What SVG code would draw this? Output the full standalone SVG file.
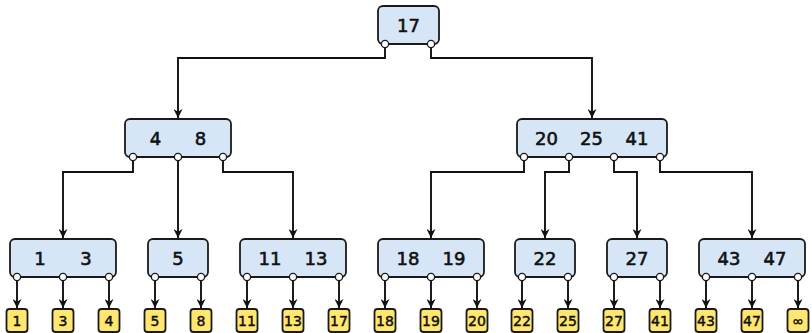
<svg xmlns="http://www.w3.org/2000/svg" width="812" height="333" viewBox="0 0 812 333">
<style>
.n{fill:#d6e6f6;stroke:#1a1a1a;stroke-width:1.8}
.l{fill:#ffe66e;stroke:#1a1a1a;stroke-width:1.8}
.c{fill:#fff;stroke:#1a1a1a;stroke-width:1.3}
.t{font-family:"DejaVu Sans",sans-serif;font-size:18px;fill:#111;stroke:#111;stroke-width:0.6;text-anchor:middle}
.s{font-family:"DejaVu Sans",sans-serif;font-size:14px;fill:#111;stroke:#111;stroke-width:0.45;text-anchor:middle}
.e{fill:none;stroke:#111;stroke-width:1.9;marker-end:url(#a)}
</style>
<defs>
<marker id="a" viewBox="0 0 10 10" markerWidth="9" markerHeight="9" refX="10" refY="5" orient="auto" markerUnits="userSpaceOnUse">
<path d="M0,0 L10,5 L0,10 L3,5 z" fill="#111"/>
</marker>
</defs>
<g id="connectors">
<path class="e" d="M385,44 V58 H178 V118"/>
<path class="e" d="M431,44 V58 H592 V118"/>
<path class="e" d="M133,157 V172 H63 V238"/>
<path class="e" d="M178,157 V238"/>
<path class="e" d="M223,157 V172 H293 V238"/>
<path class="e" d="M524,157 V172 H431 V238"/>
<path class="e" d="M569,157 V172 H545 V238"/>
<path class="e" d="M614,157 V172 H637 V238"/>
<path class="e" d="M660,157 V172 H752 V238"/>
<path class="e" d="M17,277 V308"/>
<path class="e" d="M63,277 V308"/>
<path class="e" d="M109,277 V308"/>
<path class="e" d="M155,277 V308"/>
<path class="e" d="M201,277 V308"/>
<path class="e" d="M247,277 V308"/>
<path class="e" d="M293,277 V308"/>
<path class="e" d="M339,277 V308"/>
<path class="e" d="M385,277 V308"/>
<path class="e" d="M431,277 V308"/>
<path class="e" d="M477,277 V308"/>
<path class="e" d="M522,277 V308"/>
<path class="e" d="M568,277 V308"/>
<path class="e" d="M614,277 V308"/>
<path class="e" d="M660,277 V308"/>
<path class="e" d="M706,277 V308"/>
<path class="e" d="M752,277 V308"/>
<path class="e" d="M798,277 V308"/>
</g>
<g id="root">
<rect class="n" x="378" y="6" width="61" height="38" rx="5"/>
<text class="t" x="408.5" y="31.5">17</text>
<circle class="c" cx="385" cy="44" r="3.6"/><circle class="c" cx="431" cy="44" r="3.6"/>
</g>
<g id="n48">
<rect class="n" x="125" y="119" width="106" height="38" rx="5"/>
<text class="t" x="155.5" y="144.5">4</text><text class="t" x="200.5" y="144.5">8</text>
<circle class="c" cx="133" cy="157" r="3.6"/><circle class="c" cx="178" cy="157" r="3.6"/><circle class="c" cx="223" cy="157" r="3.6"/>
</g>
<g id="n202541">
<rect class="n" x="517" y="119" width="150" height="38" rx="5"/>
<text class="t" x="546.5" y="144.5">20</text><text class="t" x="591.5" y="144.5">25</text><text class="t" x="637" y="144.5">41</text>
<circle class="c" cx="524" cy="157" r="3.6"/><circle class="c" cx="569" cy="157" r="3.6"/><circle class="c" cx="614" cy="157" r="3.6"/><circle class="c" cx="660" cy="157" r="3.6"/>
</g>
<g id="n13">
<rect class="n" x="10" y="239" width="106" height="38" rx="5"/>
<text class="t" x="40" y="264.5">1</text><text class="t" x="86" y="264.5">3</text>
<circle class="c" cx="17" cy="277" r="3.6"/><circle class="c" cx="63" cy="277" r="3.6"/><circle class="c" cx="109" cy="277" r="3.6"/>
</g>
<g id="n5">
<rect class="n" x="148" y="239" width="60" height="38" rx="5"/>
<text class="t" x="178" y="264.5">5</text>
<circle class="c" cx="155" cy="277" r="3.6"/><circle class="c" cx="201" cy="277" r="3.6"/>
</g>
<g id="n1113">
<rect class="n" x="240" y="239" width="106" height="38" rx="5"/>
<text class="t" x="270" y="264.5">11</text><text class="t" x="316" y="264.5">13</text>
<circle class="c" cx="247" cy="277" r="3.6"/><circle class="c" cx="293" cy="277" r="3.6"/><circle class="c" cx="339" cy="277" r="3.6"/>
</g>
<g id="n1819">
<rect class="n" x="378" y="239" width="106" height="38" rx="5"/>
<text class="t" x="408" y="264.5">18</text><text class="t" x="454" y="264.5">19</text>
<circle class="c" cx="385" cy="277" r="3.6"/><circle class="c" cx="431" cy="277" r="3.6"/><circle class="c" cx="477" cy="277" r="3.6"/>
</g>
<g id="n22">
<rect class="n" x="515" y="239" width="60" height="38" rx="5"/>
<text class="t" x="545" y="264.5">22</text>
<circle class="c" cx="522" cy="277" r="3.6"/><circle class="c" cx="568" cy="277" r="3.6"/>
</g>
<g id="n27">
<rect class="n" x="607" y="239" width="60" height="38" rx="5"/>
<text class="t" x="637" y="264.5">27</text>
<circle class="c" cx="614" cy="277" r="3.6"/><circle class="c" cx="660" cy="277" r="3.6"/>
</g>
<g id="n4347">
<rect class="n" x="699" y="239" width="106" height="38" rx="5"/>
<text class="t" x="729" y="264.5">43</text><text class="t" x="775" y="264.5">47</text>
<circle class="c" cx="706" cy="277" r="3.6"/><circle class="c" cx="752" cy="277" r="3.6"/><circle class="c" cx="798" cy="277" r="3.6"/>
</g>
<g id="leaves">
<g id="leaf1"><rect class="l" x="6.5" y="309" width="21" height="23" rx="3"/><text class="s" x="17" y="325.5">1</text></g>
<g id="leaf3"><rect class="l" x="52.5" y="309" width="21" height="23" rx="3"/><text class="s" x="63" y="325.5">3</text></g>
<g id="leaf4"><rect class="l" x="98.5" y="309" width="21" height="23" rx="3"/><text class="s" x="109" y="325.5">4</text></g>
<g id="leaf5"><rect class="l" x="144.5" y="309" width="21" height="23" rx="3"/><text class="s" x="155" y="325.5">5</text></g>
<g id="leaf8"><rect class="l" x="190.5" y="309" width="21" height="23" rx="3"/><text class="s" x="201" y="325.5">8</text></g>
<g id="leaf11"><rect class="l" x="236.5" y="309" width="21" height="23" rx="3"/><text class="s" x="247" y="325.5">11</text></g>
<g id="leaf13"><rect class="l" x="282.5" y="309" width="21" height="23" rx="3"/><text class="s" x="293" y="325.5">13</text></g>
<g id="leaf17"><rect class="l" x="328.5" y="309" width="21" height="23" rx="3"/><text class="s" x="339" y="325.5">17</text></g>
<g id="leaf18"><rect class="l" x="374.5" y="309" width="21" height="23" rx="3"/><text class="s" x="385" y="325.5">18</text></g>
<g id="leaf19"><rect class="l" x="420.5" y="309" width="21" height="23" rx="3"/><text class="s" x="431" y="325.5">19</text></g>
<g id="leaf20"><rect class="l" x="466.5" y="309" width="21" height="23" rx="3"/><text class="s" x="477" y="325.5">20</text></g>
<g id="leaf22"><rect class="l" x="511.5" y="309" width="21" height="23" rx="3"/><text class="s" x="522" y="325.5">22</text></g>
<g id="leaf25"><rect class="l" x="557.5" y="309" width="21" height="23" rx="3"/><text class="s" x="568" y="325.5">25</text></g>
<g id="leaf27"><rect class="l" x="603.5" y="309" width="21" height="23" rx="3"/><text class="s" x="614" y="325.5">27</text></g>
<g id="leaf41"><rect class="l" x="649.5" y="309" width="21" height="23" rx="3"/><text class="s" x="660" y="325.5">41</text></g>
<g id="leaf43"><rect class="l" x="695.5" y="309" width="21" height="23" rx="3"/><text class="s" x="706" y="325.5">43</text></g>
<g id="leaf47"><rect class="l" x="741.5" y="309" width="21" height="23" rx="3"/><text class="s" x="752" y="325.5">47</text></g>
<g id="leafinf"><rect class="l" x="787.5" y="309" width="21" height="23" rx="3"/><text class="s" x="798" y="325.5">∞</text></g>
</g>
</svg>
